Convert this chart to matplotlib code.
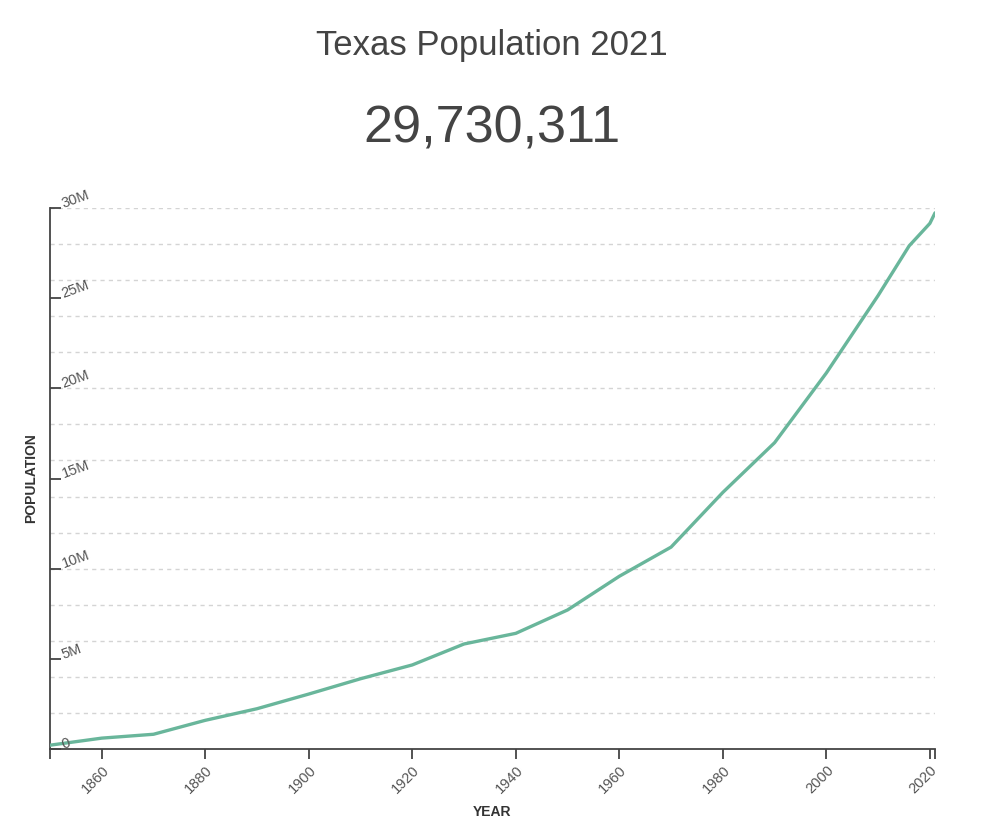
import numpy as np
import matplotlib
matplotlib.use("Agg")
import matplotlib.pyplot as plt
import matplotlib.transforms as mtransforms

# census counts + a few estimates (2016, 2021)
years = [1850, 1860, 1870, 1880, 1890, 1900, 1910, 1920, 1930, 1940,
         1950, 1960, 1970, 1980, 1990, 2000, 2010, 2016, 2020, 2021]
population = [212592, 604215, 818579, 1591749, 2235527, 3048710, 3896542,
              4663228, 5824715, 6414824, 7711194, 9579677, 11196730,
              14229191, 16986510, 20851820, 25145561, 27900000,
              29145505, 29730311]

ytick_vals = [0, 5e6, 10e6, 15e6, 20e6, 25e6, 30e6]
ytick_labels = ["0", "5M", "10M", "15M", "20M", "25M", "30M"]
xtick_vals = [1860, 1880, 1900, 1920, 1940, 1960, 1980, 2000, 2020]

plt.rcParams['font.family'] = ['Liberation Sans', 'DejaVu Sans']

fig = plt.figure(figsize=(9.96, 8.4), dpi=100)
fig.patch.set_facecolor("white")
ax = fig.add_axes([0.0502, 0.1083, 0.9388 - 0.0502, 0.7524 - 0.1083])

# dashed grid lines every 2M
for g in np.arange(2e6, 30.1e6, 2e6):
    ax.axhline(g, color="#d4d4d4", lw=1, ls=(0, (3, 3)), zorder=0)

ax.plot(years, population, color="#69b69b", lw=2.4, solid_capstyle="round",
        solid_joinstyle="round", zorder=3)

ax.set_xlim(1850, 2021)
ax.set_ylim(0, 30e6)

for s in ["top", "right"]:
    ax.spines[s].set_visible(False)
for s in ["left", "bottom"]:
    ax.spines[s].set_color("#444444")
    ax.spines[s].set_linewidth(1.3)

# x ticks: labelled every 20 years, plus the range ends
ax.set_xticks([1850] + xtick_vals + [2021])
ax.set_xticklabels([""] + [str(v) for v in xtick_vals] + [""])
ax.tick_params(axis="x", direction="out", length=7, width=1.3, color="#444444",
               labelsize=10.5, labelcolor="#555555", pad=3)
for lab in ax.get_xticklabels():
    lab.set_rotation(45)
    lab.set_ha("right")
    lab.set_va("top")
    lab.set_rotation_mode("anchor")

# y ticks point inward, labels drawn inside the plot
ax.set_yticks(ytick_vals)
ax.set_yticklabels([])
ax.tick_params(axis="y", direction="in", length=8, width=1.3, color="#444444")
trans = mtransforms.blended_transform_factory(ax.transAxes, ax.transData)
for v, lab in zip(ytick_vals, ytick_labels):
    ax.text(0.0136, v + 0.22e6, lab, transform=trans, rotation=20,
            fontsize=10.5, color="#555555", ha="left", va="center",
            rotation_mode="anchor", zorder=4)

ax.text(0.5, -0.117, "YEAR", transform=ax.transAxes, ha="center", va="center",
        fontsize=10, fontweight="bold", color="#333333")
fig.text(0.031, 1 - 478 / 840, "POPULATION", rotation=90, ha="center",
         va="center", fontsize=10, fontweight="bold", color="#333333")

fig.text(492 / 996, 1 - 46 / 840, "Texas Population 2021", ha="center",
         va="center", fontsize=25, color="#444444")
fig.text(492 / 996, 1 - 129 / 840, "29,730,311", ha="center", va="center",
         fontsize=37.5, color="#444444")

fig.savefig("out.png", dpi=100, facecolor="white")
